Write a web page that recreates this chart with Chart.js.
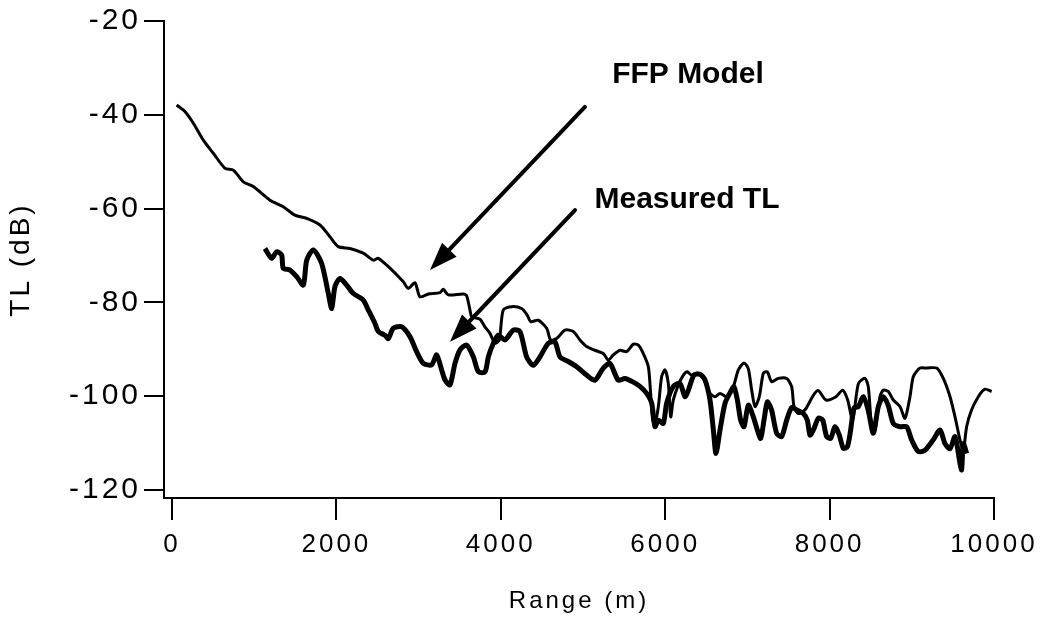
<!DOCTYPE html>
<html>
<head>
<meta charset="utf-8">
<script src="https://cdn.jsdelivr.net/npm/chart.js@4.4.1/dist/chart.umd.min.js"></script>
<style>
  html, body { margin: 0; padding: 0; background: #fff; }
  #tlChart { display: block; }
</style>
</head>
<body>
<canvas id="tlChart" width="1044" height="619"></canvas>
<script>
// FFP model (thin line)
const ffpRange = [57, 158, 260, 381, 503, 645, 746, 868, 989, 1192, 1354, 1496, 1639, 1800, 1922, 2023, 2165, 2327, 2449, 2510, 2652, 2814, 2875, 2956, 3017, 3119, 3260, 3301, 3362, 3544, 3585, 3625, 3646, 3747, 3807, 3868, 3929, 3982, 4030, 4132, 4253, 4322, 4363, 4456, 4558, 4606, 4679, 4781, 4882, 4963, 5044, 5146, 5247, 5308, 5369, 5450, 5531, 5613, 5673, 5734, 5795, 5823, 5848, 5876, 5917, 5957, 5998, 6038, 6067, 6099, 6160, 6221, 6269, 6322, 6383, 6464, 6545, 6606, 6667, 6748, 6829, 6890, 6959, 7011, 7052, 7093, 7145, 7194, 7243, 7295, 7376, 7478, 7539, 7567, 7620, 7701, 7802, 7863, 7956, 8078, 8159, 8220, 8281, 8350, 8431, 8471, 8512, 8552, 8613, 8654, 8714, 8775, 8856, 8917, 8978, 9019, 9100, 9181, 9302, 9383, 9465, 9526, 9586, 9627, 9667, 9728, 9809, 9890, 9971];
const ffpTL = [-37.9, -39.3, -41.8, -45.4, -48.2, -51.4, -51.8, -54.3, -55.3, -58.2, -59.6, -61.4, -62.1, -63.5, -66.0, -68.1, -68.5, -69.5, -71.0, -70.6, -72.7, -75.6, -77.0, -75.8, -78.8, -78.2, -77.9, -77.2, -78.4, -78.2, -78.6, -81.6, -83.0, -83.6, -85.2, -86.6, -88.7, -88.0, -81.6, -80.9, -81.3, -82.7, -84.1, -83.8, -85.5, -88.0, -87.7, -85.9, -86.2, -88.0, -89.4, -90.2, -90.9, -92.3, -91.2, -90.2, -90.5, -88.9, -89.1, -90.9, -93.7, -99.4, -105.1, -105.8, -102.2, -95.8, -94.4, -97.3, -104.4, -100.8, -97.6, -95.5, -94.8, -95.5, -95.1, -96.2, -99.4, -100.1, -99.4, -100.1, -98.0, -94.4, -92.9, -94.1, -98.7, -102.2, -100.1, -95.1, -94.8, -96.9, -96.2, -96.2, -98.0, -102.2, -103.7, -102.9, -99.8, -98.8, -100.8, -100.1, -98.7, -100.8, -105.1, -97.3, -96.2, -98.0, -106.5, -107.2, -100.1, -98.7, -99.0, -100.8, -102.2, -104.7, -100.1, -95.8, -94.0, -94.0, -94.0, -96.2, -100.1, -104.4, -109.3, -111.5, -106.5, -102.9, -100.1, -98.5, -99.0];

// Measured TL (thick line)
const measRange = [1131, 1212, 1273, 1334, 1354, 1436, 1517, 1598, 1639, 1720, 1821, 1902, 1943, 1983, 2044, 2125, 2206, 2327, 2388, 2470, 2510, 2591, 2632, 2693, 2794, 2895, 2976, 3058, 3159, 3220, 3281, 3321, 3382, 3443, 3504, 3585, 3666, 3727, 3808, 3849, 3910, 3970, 4051, 4152, 4233, 4314, 4395, 4477, 4578, 4659, 4720, 4821, 4923, 5044, 5146, 5247, 5328, 5429, 5511, 5612, 5693, 5775, 5836, 5876, 5917, 5977, 6018, 6099, 6180, 6241, 6282, 6350, 6424, 6484, 6545, 6586, 6618, 6667, 6728, 6797, 6837, 6878, 6918, 6959, 7011, 7072, 7121, 7162, 7202, 7243, 7295, 7356, 7417, 7478, 7539, 7608, 7680, 7729, 7762, 7810, 7863, 7916, 7964, 8013, 8066, 8118, 8167, 8216, 8256, 8297, 8350, 8410, 8470, 8532, 8593, 8654, 8714, 8775, 8856, 8937, 8998, 9079, 9160, 9261, 9343, 9404, 9465, 9526, 9586, 9606, 9627, 9667];
const measTL = [-68.5, -70.6, -69.2, -69.9, -72.7, -73.1, -74.5, -76.3, -71.0, -68.8, -71.7, -78.1, -81.3, -76.6, -74.9, -76.3, -78.1, -79.5, -81.6, -84.5, -86.2, -87.0, -87.7, -85.5, -85.2, -87.3, -90.5, -93.0, -93.3, -91.2, -94.4, -96.5, -97.6, -93.0, -90.1, -89.1, -91.6, -94.8, -94.8, -91.6, -88.7, -87.0, -88.0, -85.9, -86.2, -91.6, -93.4, -91.6, -88.7, -88.4, -91.6, -92.6, -93.7, -95.5, -96.6, -94.0, -93.0, -96.6, -96.2, -97.0, -97.9, -99.4, -101.5, -106.5, -105.1, -105.8, -101.5, -97.9, -97.3, -100.1, -98.7, -95.5, -95.3, -96.5, -100.8, -107.2, -112.2, -107.2, -101.5, -99.0, -98.0, -100.8, -105.1, -106.5, -101.9, -104.4, -107.2, -109.0, -105.1, -101.2, -103.0, -107.9, -108.6, -105.1, -102.4, -103.0, -103.7, -105.1, -108.3, -106.9, -104.7, -105.1, -108.6, -109.0, -106.5, -108.3, -111.1, -110.8, -107.2, -102.5, -102.2, -100.1, -103.0, -107.9, -102.2, -100.1, -102.0, -105.8, -106.5, -106.5, -109.3, -111.8, -111.5, -109.3, -107.2, -110.1, -111.2, -108.6, -114.3, -115.7, -110.1, -112.2];

const xTicks = [0, 2000, 4000, 6000, 8000, 10000];
const yTicks = [-120, -100, -80, -60, -40, -20];

// annotations, in data units
const noteText = ["FFP Model", "Measured TL"];
const noteAt = [[6277, -31.4], [6265, -58.1]];
const arrowTail = [[5024, -38.3], [4903, -60.3]];
const arrowTip = [[3139, -73.1], [3382, -88.4]];

const FONT = '"Liberation Sans", Arial, sans-serif';

// wide letter spacing like the scanned original
const spacing = {
  id: "spacing",
  beforeUpdate(chart) { chart.ctx.letterSpacing = "3px"; },
  beforeDraw(chart) { chart.ctx.letterSpacing = "3px"; },
};

const arrows = {
  id: "arrows",
  afterDatasetsDraw(chart) {
    const { ctx, scales: { x, y } } = chart;
    ctx.save();
    ctx.strokeStyle = "#000";
    ctx.fillStyle = "#000";
    ctx.lineWidth = 4;
    ctx.lineCap = "round";
    arrowTail.forEach((t, i) => {
      const x0 = x.getPixelForValue(t[0]), y0 = y.getPixelForValue(t[1]);
      const x1 = x.getPixelForValue(arrowTip[i][0]), y1 = y.getPixelForValue(arrowTip[i][1]);
      const a = Math.atan2(y1 - y0, x1 - x0);
      const bx = x1 - 28 * Math.cos(a), by = y1 - 28 * Math.sin(a);
      ctx.beginPath();
      ctx.moveTo(x0, y0);
      ctx.lineTo(bx, by);
      ctx.stroke();
      ctx.beginPath();
      ctx.moveTo(x1, y1);
      ctx.lineTo(bx + 10 * Math.sin(a), by - 10 * Math.cos(a));
      ctx.lineTo(bx - 10 * Math.sin(a), by + 10 * Math.cos(a));
      ctx.closePath();
      ctx.fill();
    });
    ctx.letterSpacing = "0px";
    ctx.font = "bold 30px " + FONT;
    ctx.textAlign = "center";
    ctx.textBaseline = "middle";
    noteText.forEach((s, i) => {
      ctx.fillText(s, x.getPixelForValue(noteAt[i][0]), y.getPixelForValue(noteAt[i][1]));
    });
    ctx.restore();
  },
};

new Chart(document.getElementById("tlChart").getContext("2d"), {
  type: "line",
  data: {
    datasets: [
      {
        label: "FFP Model",
        data: ffpRange.map((r, i) => ({ x: r, y: ffpTL[i] })),
        borderColor: "#000",
        borderWidth: 3,
        pointRadius: 0,
        tension: 0.25,
        fill: false,
      },
      {
        label: "Measured TL",
        data: measRange.map((r, i) => ({ x: r, y: measTL[i] })),
        borderColor: "#000",
        borderWidth: 5,
        pointRadius: 0,
        tension: 0.25,
        fill: false,
      },
    ],
  },
  options: {
    responsive: false,
    animation: false,
    devicePixelRatio: 1,
    layout: { padding: { top: 21, right: 50, left: 0, bottom: 0 } },
    plugins: { legend: { display: false }, tooltip: { enabled: false } },
    scales: {
      x: {
        type: "linear",
        min: -97,
        max: 10000,
        afterBuildTicks: (s) => { s.ticks = xTicks.map((v) => ({ value: v })); },
        afterFit: (s) => { s.height = 121; s.paddingRight = 44; },
        border: { color: "#000", width: 2 },
        grid: { drawOnChartArea: false, color: "#000", lineWidth: 2, tickLength: 22 },
        ticks: { color: "#000", font: { size: 26, family: FONT }, padding: 9, maxRotation: 0, callback: (v) => String(v) },
        title: { display: true, text: "Range (m)", color: "#000", font: { size: 24, family: FONT }, padding: { top: 0, bottom: 3 } },
      },
      y: {
        min: -121.7,
        max: -20,
        afterBuildTicks: (s) => { s.ticks = yTicks.map((v) => ({ value: v })); },
        afterFit: (s) => { s.width = 164; },
        border: { color: "#000", width: 2 },
        grid: { drawOnChartArea: false, color: "#000", lineWidth: 2, tickLength: 20 },
        ticks: { color: "#000", font: { size: 30, family: FONT }, padding: 3, callback: (v) => String(v) },
        title: { display: true, text: "TL (dB)", color: "#000", font: { size: 28, family: FONT }, padding: { top: 4, bottom: 0 } },
      },
    },
  },
  plugins: [spacing, arrows],
});
</script>
</body>
</html>
